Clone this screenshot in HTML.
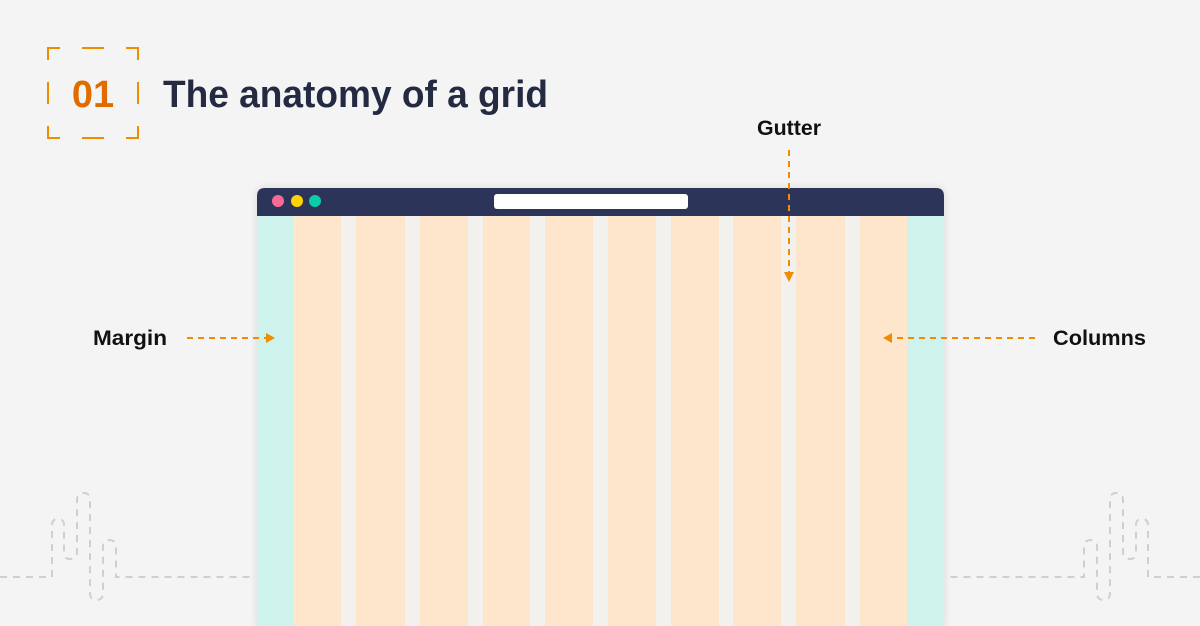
<!DOCTYPE html>
<html><head><style>
html,body{margin:0;padding:0;width:1200px;height:626px;overflow:hidden;background:#f4f4f4}
svg{display:block}
text{font-family:"Liberation Sans",Arial,sans-serif;font-weight:bold}
</style></head><body>
<svg width="1200" height="626" viewBox="0 0 1200 626">
<defs>
<filter id="sh" x="-5%" y="-5%" width="110%" height="110%"><feDropShadow dx="0" dy="0" stdDeviation="4" flood-color="#000" flood-opacity="0.12"/></filter>
</defs>
<!-- badge -->
<g stroke="#f08c00" stroke-width="2" fill="none">
<path d="M48 60 V48 H60 M82 48 H104 M126 48 H138 V60 M48 82 V104 M138 82 V104 M48 126 V138 H60 M82 138 H104 M126 138 H138 V126"/>
</g>
<text x="93" y="107" font-size="38" fill="#e06c00" text-anchor="middle">01</text>
<text x="163" y="107" font-size="38" fill="#242a42" textLength="385" lengthAdjust="spacingAndGlyphs">The anatomy of a grid</text>
<!-- decorations -->
<g stroke="#cfcfcf" stroke-width="2" fill="none" stroke-dasharray="7 6">
<path d="M0 577 H52 V525 Q52 519 58 519 Q64 519 64 525 V552 Q64 559 70 559 Q77 559 77 552 V500 Q77 493 84 493 Q90 493 90 500 V593 Q90 600 96 600 Q103 600 103 593 V547 Q103 540 109 540 Q116 540 116 547 V577 H253"/>
<path d="M1200 577 H1148 V525 Q1148 519 1142 519 Q1136 519 1136 525 V552 Q1136 559 1130 559 Q1123 559 1123 552 V500 Q1123 493 1116 493 Q1110 493 1110 500 V593 Q1110 600 1104 600 Q1097 600 1097 593 V547 Q1097 540 1091 540 Q1084 540 1084 547 V577 H947"/>
</g>
<!-- window -->
<g filter="url(#sh)">
<path d="M257 196 Q257 188 265 188 H936 Q944 188 944 196 V626 H257 Z" fill="#f3f1ee"/>
</g>
<path d="M257 196 Q257 188 265 188 H936 Q944 188 944 196 V216 H257 Z" fill="#2d3459"/>
<circle cx="278" cy="201" r="6" fill="#f76b94"/>
<circle cx="297" cy="201" r="6" fill="#ffd400"/>
<circle cx="315" cy="201" r="6" fill="#09cca9"/>
<rect x="494" y="194" width="194" height="15" rx="3" fill="#fff"/>
<rect x="257" y="216" width="36" height="410" fill="#cdf3ec"/>
<rect x="907" y="216" width="37" height="410" fill="#cdf3ec"/>
<g fill="#fde6cc">
<rect x="293" y="216" width="48" height="410"/>
<rect x="356" y="216" width="49" height="410"/>
<rect x="420" y="216" width="48" height="410"/>
<rect x="483" y="216" width="47" height="410"/>
<rect x="545" y="216" width="48" height="410"/>
<rect x="608" y="216" width="48" height="410"/>
<rect x="671" y="216" width="48" height="410"/>
<rect x="733" y="216" width="48" height="410"/>
<rect x="796" y="216" width="49" height="410"/>
<rect x="860" y="216" width="47" height="410"/>
</g>
<!-- arrows -->
<g stroke="#f08c00" stroke-width="2" stroke-dasharray="6 5" fill="none">
<path d="M789 150 V273"/>
<path d="M187 338 H266"/>
<path d="M1035 338 H892"/>
</g>
<g fill="#f08c00">
<path d="M784 272 H794 L789 282 Z"/>
<path d="M266 333 V343 L275 338 Z"/>
<path d="M892 333 V343 L883 338 Z"/>
</g>
<text x="757" y="135" font-size="21" fill="#111" textLength="64" lengthAdjust="spacingAndGlyphs">Gutter</text>
<text x="93" y="345" font-size="21" fill="#111" textLength="74" lengthAdjust="spacingAndGlyphs">Margin</text>
<text x="1053" y="345" font-size="21" fill="#111" textLength="93" lengthAdjust="spacingAndGlyphs">Columns</text>
</svg>
</body></html>
